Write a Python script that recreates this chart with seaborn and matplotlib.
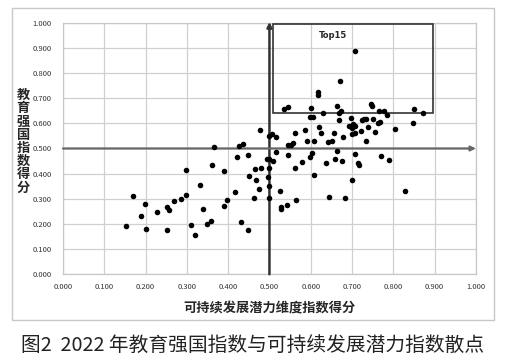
import matplotlib
matplotlib.use("Agg")
import matplotlib.pyplot as plt
from matplotlib.patches import Rectangle
import pandas as pd
import seaborn as sns

# 可持续发展潜力维度指数得分 (x) vs 教育强国指数得分 (y)
sustain = [
    0.153, 0.169, 0.190, 0.199, 0.200, 0.228, 0.253, 0.253, 0.257, 0.269,
    0.285, 0.298, 0.298, 0.310, 0.320, 0.333, 0.338, 0.348, 0.359, 0.360,
    0.366, 0.389, 0.391, 0.398, 0.416, 0.422, 0.426, 0.435, 0.432, 0.448,
    0.449, 0.451, 0.462, 0.466, 0.468, 0.474, 0.478, 0.480, 0.500, 0.506,
    0.517, 0.493, 0.499, 0.509, 0.517, 0.499, 0.496, 0.498, 0.498, 0.525,
    0.527, 0.529, 0.543, 0.546, 0.546, 0.551, 0.556, 0.561, 0.562, 0.564,
    0.580, 0.587, 0.592, 0.598, 0.603, 0.608, 0.598, 0.606, 0.609, 0.619,
    0.624, 0.630, 0.638, 0.642, 0.651, 0.645, 0.656, 0.658, 0.664, 0.669,
    0.669, 0.674, 0.676, 0.679, 0.682, 0.693, 0.700, 0.697, 0.701, 0.701,
    0.706, 0.703, 0.708, 0.708, 0.714, 0.718, 0.721, 0.724, 0.730, 0.735,
    0.735, 0.738, 0.751, 0.755, 0.763, 0.768, 0.771, 0.790, 0.803, 0.829,
    0.847,
    # top 15
    0.535, 0.546, 0.600, 0.617, 0.618, 0.664, 0.671, 0.708, 0.745, 0.748,
    0.766, 0.777, 0.784, 0.850, 0.871,
]
edu = [
    0.191, 0.311, 0.233, 0.279, 0.179, 0.248, 0.175, 0.269, 0.256, 0.293,
    0.301, 0.415, 0.315, 0.196, 0.157, 0.355, 0.259, 0.201, 0.212, 0.433,
    0.506, 0.409, 0.270, 0.294, 0.327, 0.466, 0.511, 0.517, 0.208, 0.175,
    0.474, 0.391, 0.302, 0.420, 0.375, 0.339, 0.573, 0.422, 0.550, 0.558,
    0.547, 0.460, 0.457, 0.452, 0.486, 0.422, 0.386, 0.351, 0.303, 0.332,
    0.269, 0.261, 0.277, 0.515, 0.476, 0.515, 0.521, 0.563, 0.422, 0.295,
    0.446, 0.573, 0.531, 0.465, 0.483, 0.531, 0.626, 0.626, 0.393, 0.584,
    0.563, 0.640, 0.441, 0.526, 0.531, 0.306, 0.563, 0.457, 0.489, 0.613,
    0.642, 0.648, 0.452, 0.547, 0.303, 0.589, 0.581, 0.621, 0.375, 0.558,
    0.563, 0.597, 0.589, 0.478, 0.441, 0.436, 0.568, 0.613, 0.616, 0.618,
    0.531, 0.587, 0.616, 0.566, 0.603, 0.605, 0.470, 0.454, 0.579, 0.330,
    0.600,
    0.656, 0.666, 0.661, 0.725, 0.713, 0.669, 0.767, 0.889, 0.677, 0.668,
    0.650, 0.648, 0.634, 0.656, 0.640,
]
ticks = [0.0, 0.1, 0.2, 0.3, 0.4, 0.5, 0.6, 0.7, 0.8, 0.9, 1.0]
top_box = (0.509, 0.640, 0.897, 0.994)  # x0, y0, x1, y1

df = pd.DataFrame({"sustain": sustain, "edu": edu})

sns.set_style("white")
plt.rcParams["font.family"] = ["Noto Sans CJK SC", "DejaVu Sans"]

fig = plt.figure(figsize=(5.06, 3.62), dpi=100)
ax = fig.add_axes([0.1245, 0.2423, 0.816, 0.695])

# outer frame of the chart area
fig.patches.append(Rectangle((0.0237, 0.116), 0.9526, 0.862, transform=fig.transFigure,
                             fill=False, edgecolor="#c8c8c8", lw=1.0))

sns.scatterplot(data=df, x="sustain", y="edu", ax=ax, color="black",
                s=16, edgecolor="black", linewidth=0, zorder=4)

ax.set_xlim(0, 1)
ax.set_ylim(0, 1)
ax.set_xticks(ticks)
ax.set_yticks(ticks)
ax.set_xticklabels([f"{t:.3f}" for t in ticks], fontsize=5.5, color="#333333")
ax.set_yticklabels([f"{t:.3f}" for t in ticks], fontsize=5.5, color="#333333")
ax.tick_params(length=0, pad=8)
ax.tick_params(axis="x", pad=6)
ax.grid(True, color="#d0d0d0", lw=0.9)
for sp in ax.spines.values():
    sp.set_color("#c8c8c8")
    sp.set_linewidth(0.9)

ax.set_xlabel("可持续发展潜力维度指数得分", fontsize=9.5, fontweight="bold", labelpad=8)
ax.set_ylabel("")
fig.text(0.046, 0.61, "\n".join("教育强国指数得分"), fontsize=9.5, fontweight="bold",
         ha="center", va="center", linespacing=0.93)

# quadrant arrows
ax.annotate("", xy=(0.5, 1.003), xytext=(0.5, 0.0),
            arrowprops=dict(arrowstyle="-|>", color="#333333", lw=1.8,
                            mutation_scale=7, shrinkA=0, shrinkB=0),
            annotation_clip=False, zorder=3)
ax.annotate("", xy=(1.0, 0.5), xytext=(0.0, 0.5),
            arrowprops=dict(arrowstyle="-|>", color="#666666", lw=1.6,
                            mutation_scale=7, shrinkA=0, shrinkB=0),
            annotation_clip=False, zorder=3)

# Top15 box
x0, y0, x1, y1 = top_box
ax.add_patch(Rectangle((x0, y0), x1 - x0, y1 - y0, fill=False,
                       edgecolor="#333333", lw=1.2, zorder=3))
ax.text(0.653, 0.948, "Top15", fontsize=6, fontweight="bold", ha="center", va="center",
        family=["DejaVu Sans"])

fig.text(0.5, 0.047, "图2  2022 年教育强国指数与可持续发展潜力指数散点",
         fontsize=14.2, ha="center", va="center", color="#222222")

fig.savefig("out.png", dpi=100)
